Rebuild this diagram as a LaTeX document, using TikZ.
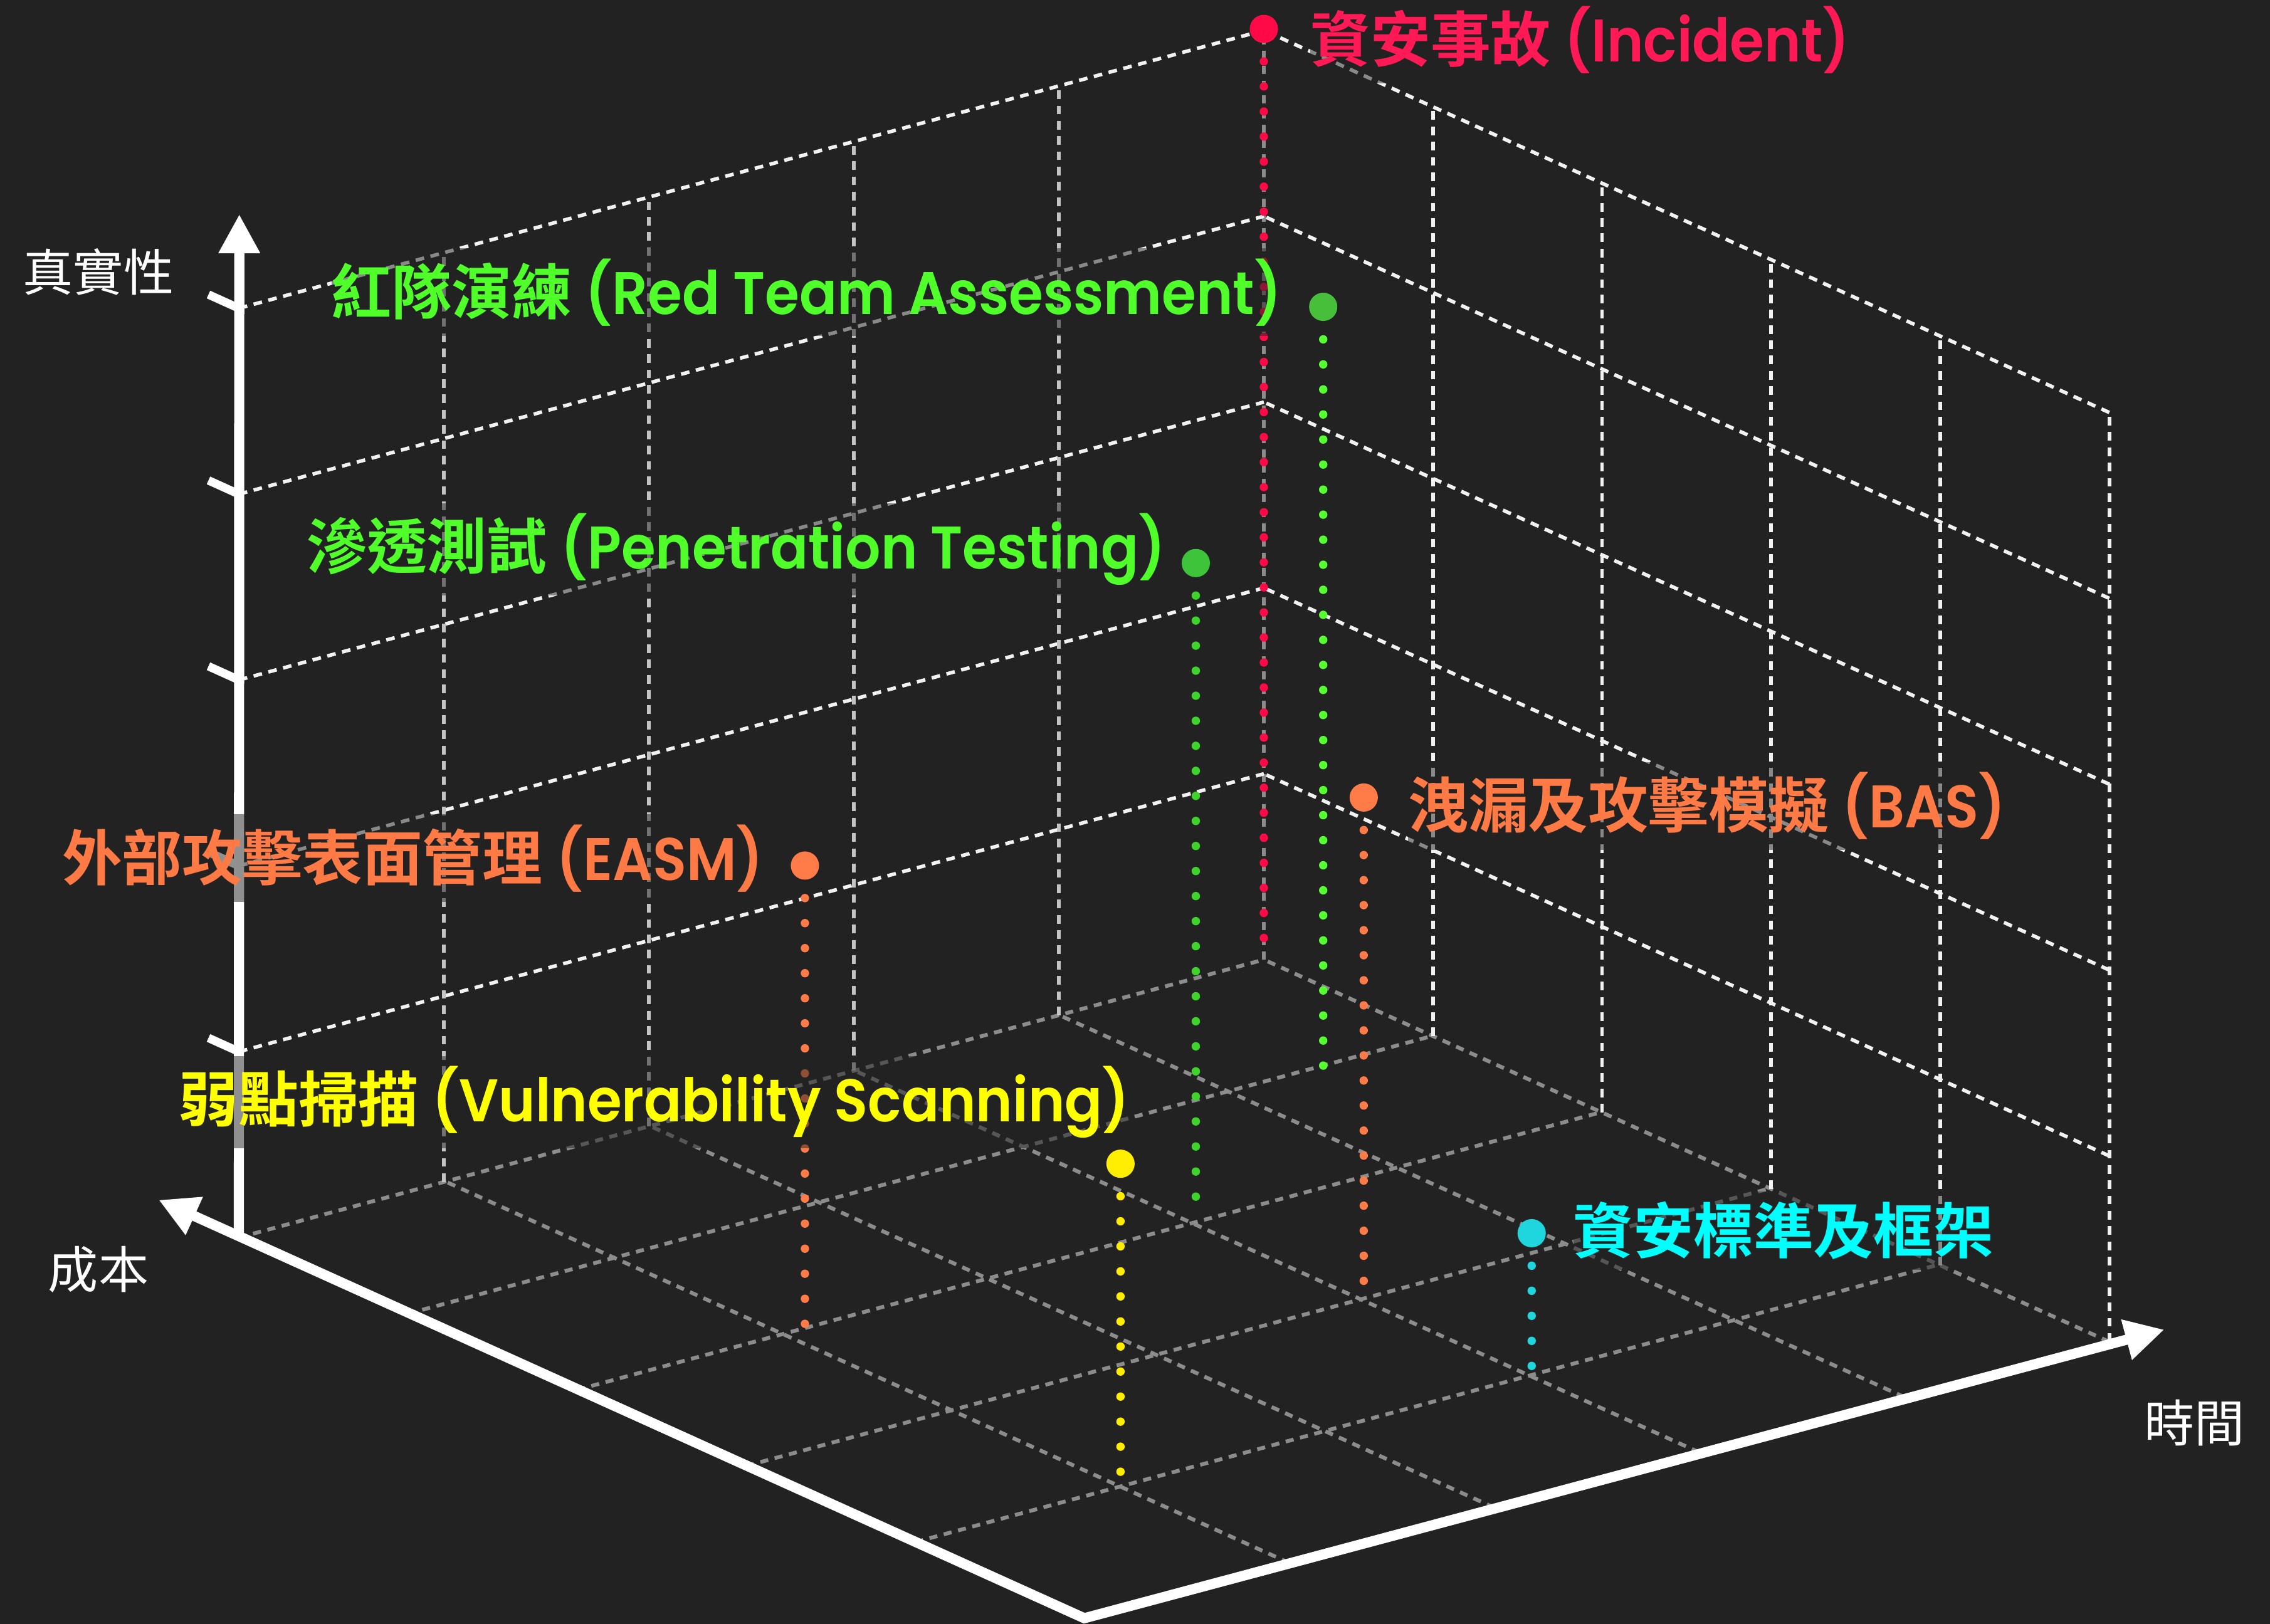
\documentclass[tikz,border=0pt]{standalone}
\usepackage{fontspec}
\usetikzlibrary{calc,arrows.meta}
\newfontfamily\cjkr{Noto Sans CJK TC}
\newfontfamily\cjkb{Noto Sans CJK TC Bold}
\newfontfamily\latb{Poppins SemiBold}[FakeStretch=0.925]
\definecolor{bgc}{HTML}{222222}
\definecolor{floorc}{HTML}{8C8C8C}
\definecolor{wallc}{HTML}{F2F2F2}
\definecolor{wallvc}{HTML}{C4C4C4}
\definecolor{cRed}{HTML}{FF0A47}
\definecolor{tRed}{HTML}{FF1A55}
\definecolor{cGreenA}{HTML}{55FF30}
\definecolor{dGreenA}{HTML}{47BF3A}
\definecolor{cGreenB}{HTML}{3ED42B}
\definecolor{dGreenB}{HTML}{3DC43A}
\definecolor{tGreen}{HTML}{50FF2A}
\definecolor{cOrange}{HTML}{FF7B48}
\definecolor{tOrange}{HTML}{FF7A45}
\definecolor{cYellow}{HTML}{FFEE00}
\definecolor{tYellow}{HTML}{FFFF00}
\definecolor{cCyan}{HTML}{1FD6DE}
\definecolor{tCyan}{HTML}{00FFFF}
\begin{document}
\begin{tikzpicture}[x=0.01cm,y=-0.01cm,
  floorln/.style={draw=floorc, line width=0.75pt, dash pattern=on 1.6pt off 1.3pt},
  wallln/.style={draw=wallc, line width=0.7pt, dash pattern=on 1.7pt off 1.3pt},
  wallvln/.style={wallln, draw=wallvc},
  axisln/.style={draw=white, line width=0.07cm},
  tickln/.style={draw=white, line width=0.058cm},
  dotln/.style={line width=1.65pt, line cap=round, dash pattern=on 0pt off 4.92pt, shorten <=0.12cm},
  bigdot/.style={circle, inner sep=0pt, minimum size=0.195cm},
  lbl/.style={font=\fontsize{11.8pt}{14pt}\selectfont, inner xsep=0pt, inner ysep=2pt,
              fill=bgc, fill opacity=0.5, text opacity=1},
  axlbl/.style={text=white, font=\fontsize{9.87pt}{12pt}\selectfont\cjkr, inner sep=0pt},
  tip/.tip={Triangle[length=0.27cm,width=0.27cm]}
]
\fill[bgc] (0,0) rectangle (1568,1122);
\useasboundingbox (0,0) rectangle (1568,1122);

% key points of the box
\coordinate (O) at (749,1118);
\coordinate (L) at (165,855);
\coordinate (R) at (1457,927);
\coordinate (B) at (873,663);
\coordinate (ctip) at (109.6,829);
\coordinate (ttip) at (1495,918.6);
\coordinate (vtip) at (165.3,148);

% floor grid
\foreach \i [evaluate=\i as \f using \i/5] in {1,...,5}{
  \draw[floorln] ($(O)!\f!(L)$) -- ++(708,-192);
  \draw[floorln] ($(O)!\f!(R)$) -- ++(-584,-264);
}
% back corner vertical
\draw[floorln] (B) -- ++(0,-642);
% wall horizontals
\foreach \k in {1,...,5}{
  \draw[wallln] ($(L)+(0,-128.4*\k)$) -- ++(708,-192);
  \draw[wallln] ($(R)+(0,-128.4*\k)$) -- ++(-584,-264);
}
% wall verticals
\foreach \j [evaluate=\j as \f using \j/5] in {1,...,4}{
  \draw[wallvln] ($(L)!\f!(B)$) -- ++(0,-642);
  \draw[wallln] ($(R)!\f!(B)$) -- ++(0,-642);
}
\draw[wallln] (R) -- ++(0,-642);

% axes
\draw[axisln, tip-tip, line join=miter] (ctip) -- (O) -- (ttip);
\draw[axisln, -tip] (L) -- (vtip);
\foreach \k in {1,...,5}
  \draw[tickln] ($(L)+(0,-128.4*\k)$) -- ++(-21,-9.5);

% axis labels
\node[axlbl] (yl) at (68,188) {真實性};
\node[axlbl] (cl) at (68,877) {成本};
\node[axlbl] (tl) at (1516,983) {時間};

% points with drop lines
\node[bigdot, fill=cRed] (inc) at (873,20) {};
\coordinate (incF) at (873,652);
\draw[dotln, cRed] (inc) -- (incF);

\node[bigdot, fill=dGreenA] (rt) at (914,212) {};
\coordinate (rtF) at (914,740);
\draw[dotln, cGreenA] (rt) -- (rtF);

\node[bigdot, fill=dGreenB] (pt) at (826,389) {};
\coordinate (ptF) at (826,840);
\draw[dotln, cGreenB] (pt) -- (ptF);

\node[bigdot, fill=cOrange] (easm) at (556,598) {};
\coordinate (easmF) at (556,915);
\draw[dotln, cOrange] (easm) -- (easmF);

\node[bigdot, fill=cOrange] (bas) at (942,551) {};
\coordinate (basF) at (942,898);
\draw[dotln, cOrange] (bas) -- (basF);

\node[bigdot, fill=cYellow] (vs) at (774,804) {};
\coordinate (vsF) at (774,1027);
\draw[dotln, cYellow] (vs) -- (vsF);

\node[bigdot, fill=cCyan] (sf) at (1058,852) {};
\coordinate (sfF) at (1058,947);
\draw[dotln, cCyan] (sf) -- (sfF);

% labels
\node[lbl, text=tRed, anchor=base west] (incL) at (904.5,42.5) {\cjkb 資安事故 \latb (Incident)};
\node[lbl, text=tGreen, anchor=base east] (rtL) at (886,217) {\cjkb 紅隊演練 \latb (Red Team Assessment)};
\node[lbl, text=tGreen, anchor=base east] (ptL) at (806,393) {\cjkb 滲透測試 \latb (Penetration Testing)};
\node[lbl, text=tOrange, anchor=base east] (easmL) at (528,608) {\cjkb 外部攻擊表面管理 \latb (EASM)};
\node[lbl, text=tOrange, anchor=base west] (basL) at (972,572) {\cjkb 洩漏及攻擊模擬 \latb (BAS)};
\node[lbl, text=tYellow, anchor=base east] (vsL) at (781,775) {\cjkb 弱點掃描 \latb (Vulnerability Scanning)};
\node[lbl, text=tCyan, anchor=base west] (sfL) at (1086,866) {\cjkb 資安標準及框架};
\end{tikzpicture}
\end{document}
